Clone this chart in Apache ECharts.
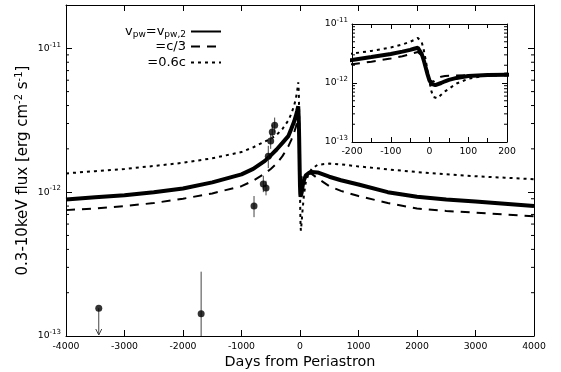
<!DOCTYPE html>
<html><head><meta charset="utf-8">
<script src="https://cdn.jsdelivr.net/npm/echarts@6/dist/echarts.min.js"></script>
<style>html,body{margin:0;padding:0;background:#fff}#c{width:561px;height:372px}</style>
</head><body><div id="c"></div>
<script>
// ---- data (flux in units of 1e-12 erg cm^-2 s^-1) ----
const UNIT = 1e-12;
const days = [-4000,-3500,-3000,-2500,-2000,-1500,-1000,-800,-600,-500,-400,-300,-200,-150,-100,-70,-50,-40,-30,-25,-20,-15,-10,-5,0,5,10,15,20,30,40,50,70,100,150,200,300,500,700,1000,1500,2000,2500,3000,3500,4000];
const fluxSolid = [0.89,0.92,0.95,1.00,1.06,1.17,1.33,1.45,1.65,1.80,1.98,2.20,2.45,2.75,3.10,3.40,3.65,3.80,3.95,3.85,3.10,2.45,1.85,1.40,1.10,0.97,0.93,0.92,0.93,1.00,1.07,1.13,1.22,1.31,1.36,1.38,1.37,1.28,1.21,1.13,1.00,0.93,0.89,0.86,0.83,0.80];
const fluxDashed = [0.75,0.77,0.80,0.84,0.90,0.98,1.10,1.20,1.35,1.45,1.58,1.78,2.08,2.30,2.60,2.85,3.08,3.22,3.35,3.30,2.90,2.35,1.80,1.35,1.10,1.02,1.05,1.12,1.20,1.28,1.31,1.33,1.34,1.35,1.35,1.34,1.25,1.10,1.02,0.94,0.84,0.77,0.74,0.72,0.70,0.68];
const fluxDotted = [1.35,1.40,1.45,1.52,1.60,1.72,1.90,2.05,2.25,2.35,2.50,2.75,3.15,3.50,4.00,4.50,5.00,5.35,5.80,5.70,4.90,3.70,2.50,1.60,1.05,0.72,0.58,0.54,0.55,0.63,0.72,0.80,0.98,1.18,1.35,1.45,1.55,1.58,1.56,1.51,1.44,1.38,1.33,1.29,1.26,1.23];
// observations
const obsDays = [-1690,-786,-627,-581,-542,-501,-474,-433];
const obsFlux = [0.143,0.80,1.14,1.07,1.78,2.27,2.62,2.92];
const obsLow  = [0.100,0.67,1.00,0.95,1.47,2.00,2.35,2.60];
const obsHigh = [0.280,0.94,1.30,1.20,2.10,2.55,2.95,3.30];
// upper limit
const ulDays = [-3440];
const ulFlux = [0.156];
const ulTo = [0.100];
// axes
const minorMult = [2,3,4,5,6,7,8,9];
const mainDecades = [-13,-12,-11];
const insetDecades = [-13,-12];

const FONT = 'DejaVu Sans';
const pair = (arr) => days.map((d,i)=>[d, arr[i]*UNIT]);
const supLabel = (v) => {
  const l = Math.log10(v); const e = Math.round(l);
  if (Math.abs(l-e) > 1e-6) return '';
  return '{b|10}{s|' + e + '}';
};
const plainNum = (v) => String(v);
const labelRich = { b:{fontSize:9.3, fontFamily:FONT, color:'#000', lineHeight:14}, s:{fontSize:7, fontFamily:FONT, color:'#000', lineHeight:7, verticalAlign:'top'} };
function minorVals(decs, max){
  const out=[];
  decs.forEach(e=>minorMult.forEach(m=>{const v=m*Math.pow(10,e); if(v<max*0.999) out.push([0,v]);}));
  return out;
}
const tickItem = (len) => function(params, api){
  const cs = params.coordSys;
  const y = api.coord([0, api.value(1)])[1];
  return {type:'group', children:[
    {type:'line', shape:{x1:cs.x, y1:y, x2:cs.x+len, y2:y}, style:{stroke:'#000', lineWidth:1}},
    {type:'line', shape:{x1:cs.x+cs.width, y1:y, x2:cs.x+cs.width-len, y2:y}, style:{stroke:'#000', lineWidth:1}}
  ]};
};

const axisCommon = {
  axisLine:{show:true, onZero:false, lineStyle:{color:'#000', width:1}},
  splitLine:{show:false},
  axisTick:{show:true, inside:true, length:6, lineStyle:{color:'#000'}}
};
const MAXY = 2e-11;
const chart = echarts.init(document.getElementById('c'), null, {renderer:'canvas'});
const lineSeries = (name, arr, style, xi, yi) => ({
  name, type:'line', data: pair(arr), xAxisIndex:xi, yAxisIndex:yi, symbol:'none', showSymbol:false,
  lineStyle: style, itemStyle:{color:'#000'}, clip:true, animation:false, silent:true, z: name==='s'?4:3
});
const S = {color:'#000', width:4, type:'solid'};
const D = {color:'#000', width:2, type:[9,7]};
const P = {color:'#000', width:2, type:[3,4]};
const legendBase = {right:339, padding:0, align:'right', orient:'vertical', itemWidth:30, itemHeight:14, selectedMode:false, itemStyle:{opacity:0, borderWidth:0}};

chart.setOption({
  animation:false,
  backgroundColor:'#fff',
  textStyle:{fontFamily:FONT},
  grid:[
    {left:66, top:5, right:27, bottom:36, containLabel:false, outerBoundsMode:'none'},
    {left:352, top:24, width:155, height:118, containLabel:false, outerBoundsMode:'none', show:true, backgroundColor:'#fff', borderWidth:0}
  ],
  xAxis:[
    Object.assign({gridIndex:0, type:'value', min:-4000, max:4000, interval:1000, position:'bottom',
      axisLabel:{fontSize:9.3, color:'#000', fontFamily:FONT, margin:6, formatter:plainNum},
      name:'Days from Periastron', nameLocation:'middle', nameGap:19, nameMoveOverlap:false,
      nameTextStyle:{fontSize:14.4, color:'#000', fontFamily:FONT}}, axisCommon),
    Object.assign({gridIndex:0, type:'value', min:-4000, max:4000, interval:1000, position:'top', axisLabel:{show:false}}, axisCommon),
    Object.assign({gridIndex:1, type:'value', min:-200, max:200, interval:100, position:'bottom',
      minorTick:{show:true, splitNumber:2, length:4, lineStyle:{color:'#000'}},
      axisLabel:{fontSize:9.3, color:'#000', fontFamily:FONT, margin:5, formatter:plainNum}}, axisCommon, {axisTick:{show:true, inside:true, length:5, lineStyle:{color:'#000'}}}),
    Object.assign({gridIndex:1, type:'value', min:-200, max:200, interval:100, position:'top',
      minorTick:{show:true, splitNumber:2, length:4, lineStyle:{color:'#000'}},
      axisLabel:{show:false}}, axisCommon, {axisTick:{show:true, inside:true, length:5, lineStyle:{color:'#000'}}})
  ],
  yAxis:[
    Object.assign({gridIndex:0, type:'log', logBase:10, min:1e-13, max:MAXY, position:'left',
      axisLabel:{formatter:supLabel, rich:labelRich, margin:5, showMaxLabel:false},
      name:'0.3-10keV flux [erg cm{s|-2} s{s|-1}]', nameLocation:'middle', nameGap:34, nameRotate:90, nameMoveOverlap:false,
      nameTextStyle:{fontSize:15, color:'#000', fontFamily:FONT, lineHeight:18, rich:{s:{fontSize:10, fontFamily:FONT, color:'#000', lineHeight:10, verticalAlign:'top'}}}}, axisCommon),
    Object.assign({gridIndex:0, type:'log', logBase:10, min:1e-13, max:MAXY, position:'right', axisLabel:{show:false}}, axisCommon),
    Object.assign({gridIndex:1, type:'log', logBase:10, min:1e-13, max:1e-11, position:'left',
      axisLabel:{formatter:supLabel, rich:labelRich, margin:4}}, axisCommon, {axisTick:{show:true, inside:true, length:5, lineStyle:{color:'#000'}}}),
    Object.assign({gridIndex:1, type:'log', logBase:10, min:1e-13, max:1e-11, position:'right', axisLabel:{show:false}}, axisCommon, {axisTick:{show:true, inside:true, length:5, lineStyle:{color:'#000'}}})
  ],
  legend:[
    Object.assign({data:['s'], top:25,
      formatter:()=>'{t|v}{u|pw}{t|=v}{u|pw,2}',
      textStyle:{color:'#000', fontFamily:FONT, rich:{t:{fontSize:13, fontFamily:FONT, color:'#000', lineHeight:16}, u:{fontSize:9, fontFamily:FONT, color:'#000', lineHeight:9, verticalAlign:'bottom'}}}}, legendBase),
    Object.assign({data:['d'], top:40, formatter:()=>'=c/3', textStyle:{color:'#000', fontFamily:FONT, fontSize:13}}, legendBase),
    Object.assign({data:['p'], top:56, formatter:()=>'=0.6c', textStyle:{color:'#000', fontFamily:FONT, fontSize:13}}, legendBase)
  ],
  series:[
    lineSeries('p', fluxDotted, P, 0, 0),
    lineSeries('d', fluxDashed, D, 0, 0),
    lineSeries('s', fluxSolid, S, 0, 0),
    lineSeries('p', fluxDotted, P, 2, 2),
    lineSeries('d', fluxDashed, D, 2, 2),
    lineSeries('s', fluxSolid, S, 2, 2),
    {type:'custom', name:'err', xAxisIndex:0, yAxisIndex:0, silent:true, clip:true,
      data: obsDays.map((d,i)=>[d, obsLow[i]*UNIT, obsHigh[i]*UNIT]),
      encode:{x:0, y:[1,2]},
      renderItem:(params, api)=>{
        const a = api.coord([api.value(0), api.value(1)]);
        const b = api.coord([api.value(0), api.value(2)]);
        return {type:'line', shape:{x1:a[0], y1:a[1], x2:b[0], y2:b[1]}, style:{stroke:'#444', lineWidth:1}};
      }, z:5},
    {type:'custom', name:'ul', xAxisIndex:0, yAxisIndex:0, silent:true,
      data: ulDays.map((d,i)=>[d, ulFlux[i]*UNIT, ulTo[i]*UNIT]),
      encode:{x:0, y:[1,2]},
      renderItem:(params, api)=>{
        const a = api.coord([api.value(0), api.value(1)]);
        const b = api.coord([api.value(0), api.value(2)]);
        return {type:'group', children:[
          {type:'line', shape:{x1:a[0], y1:a[1], x2:b[0], y2:b[1]-1}, style:{stroke:'#444', lineWidth:1}},
          {type:'polyline', shape:{points:[[b[0]-3, b[1]-7],[b[0], b[1]-1],[b[0]+3, b[1]-7]]}, style:{stroke:'#444', lineWidth:1, fill:null}}
        ]};
      }, z:5},
    {type:'scatter', name:'obs', xAxisIndex:0, yAxisIndex:0, symbol:'circle', symbolSize:7, silent:true,
      itemStyle:{color:'#000'}, data: obsDays.map((d,i)=>[d, obsFlux[i]*UNIT]).concat(ulDays.map((d,i)=>[d, ulFlux[i]*UNIT])), z:6},
    {type:'custom', name:'minorMain', xAxisIndex:0, yAxisIndex:0, silent:true, data:minorVals(mainDecades, MAXY), encode:{x:0,y:1}, renderItem:tickItem(3), z:7},
    {type:'custom', name:'minorInset', xAxisIndex:2, yAxisIndex:2, silent:true, data:minorVals(insetDecades, 1e-11), encode:{x:0,y:1}, renderItem:tickItem(3), z:7}
  ]
});
</script></body></html>
